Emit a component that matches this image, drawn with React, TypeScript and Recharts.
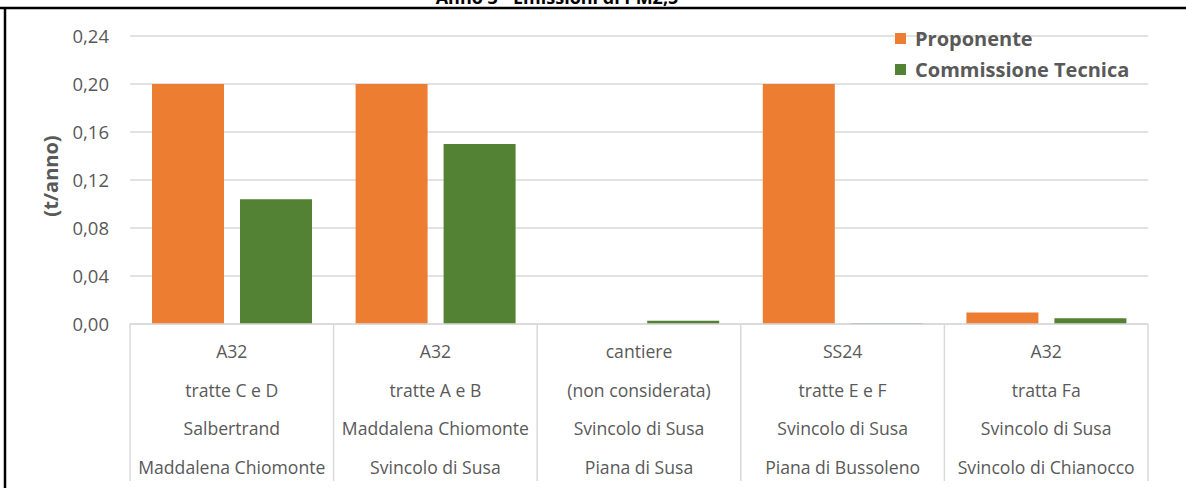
import { BarChart, Bar, XAxis, YAxis, CartesianGrid } from "recharts";

const categories = [
  ["A32", "tratte C e D", "Salbertrand", "Maddalena Chiomonte"],
  ["A32", "tratte A e B", "Maddalena Chiomonte", "Svincolo di Susa"],
  ["cantiere", "(non considerata)", "Svincolo di Susa", "Piana di Susa"],
  ["SS24", "tratte E e F", "Svincolo di Susa", "Piana di Bussoleno"],
  ["A32", "tratta Fa", "Svincolo di Susa", "Svincolo di Chianocco"],
];
const proponente = [0.2, 0.2, 0, 0.2, 0.0095];
const commissione = [0.104, 0.15, 0.0028, 0.0006, 0.0048];
const yTicks = [0, 0.04, 0.08, 0.12, 0.16, 0.2, 0.24];

const series = [
  { key: "proponente", name: "Proponente", color: "#ED7D31" },
  { key: "commissione", name: "Commissione Tecnica", color: "#548235" },
];

const data = categories.map((lines, i) => ({
  label: lines.join("|"),
  proponente: proponente[i],
  commissione: commissione[i],
}));

const FONT = "'Open Sans', 'Noto Sans', sans-serif";
const TEXT = "#595959";
const GRID = "#d9d9d9";
const W = 1186;
const H = 488;
const PLOT_LEFT = 130;
const PLOT_RIGHT = 1148;
const CAT_W = (PLOT_RIGHT - PLOT_LEFT) / categories.length;

const fmt = (v: number) => v.toFixed(2).replace(".", ",");

// multi-row category label with the table-like separators underneath the axis
const CategoryTick = (props: any) => {
  const { x, y, payload, index } = props;
  const lines: string[] = String(payload.value).split("|");
  const last = index === categories.length - 1;
  return (
    <g>
      <line x1={x - CAT_W / 2} x2={x - CAT_W / 2} y1={y} y2={y + 157} stroke={GRID} strokeWidth={1.5} />
      {last && (
        <line x1={x + CAT_W / 2} x2={x + CAT_W / 2} y1={y} y2={y + 157} stroke={GRID} strokeWidth={1.5} />
      )}
      {lines.map((t, i) => (
        <text
          key={i}
          x={x}
          y={y + 27 + i * 38.7}
          textAnchor="middle"
          dominantBaseline="central"
          fill={TEXT}
          fontSize={17.6}
          fontFamily={FONT}
        >
          {t}
        </text>
      ))}
    </g>
  );
};

const AxisTitle = () => (
  <text
    x={50}
    y={176}
    transform="rotate(-90 50 176)"
    textAnchor="middle"
    dominantBaseline="central"
    fill={TEXT}
    fontSize={20}
    fontWeight={700}
    fontFamily={FONT}
  >
    (t/anno)
  </text>
);

const LegendBox = () => (
  <div
    style={{
      position: "absolute",
      left: 895,
      top: 23,
      fontFamily: FONT,
      fontWeight: 700,
      fontSize: 20,
      color: TEXT,
    }}
  >
    {series.map((s) => (
      <div key={s.key} style={{ display: "flex", alignItems: "center", height: 31 }}>
        <div style={{ width: 11, height: 11, background: s.color, marginRight: 9 }} />
        <span>{s.name}</span>
      </div>
    ))}
  </div>
);

export default function App() {
  return (
    <div style={{ position: "absolute", left: 0, top: 0, width: W, height: H, background: "#fff", overflow: "hidden" }}>
      <BarChart
        width={W}
        height={H}
        data={data}
        margin={{ top: 36, right: W - PLOT_RIGHT, left: 0, bottom: 0 }}
        barSize={72}
        barGap={16}
      >
        <CartesianGrid vertical={false} stroke={GRID} strokeWidth={1.5} />
        <XAxis
          dataKey="label"
          axisLine={{ stroke: GRID, strokeWidth: 1.5 }}
          tickLine={false}
          tickSize={0}
          tickMargin={0}
          height={H - 324}
          interval={0}
          tick={<CategoryTick />}
        />
        <YAxis
          width={PLOT_LEFT}
          domain={[0, 0.24]}
          ticks={yTicks}
          tickFormatter={fmt}
          axisLine={false}
          tickLine={false}
          tickSize={0}
          tickMargin={21}
          tick={{ fill: TEXT, fontSize: 18.5, fontFamily: FONT }}
          label={{ content: <AxisTitle /> }}
        />
        {series.map((s) => (
          <Bar key={s.key} dataKey={s.key} name={s.name} fill={s.color} isAnimationActive={false} />
        ))}
      </BarChart>
      <LegendBox />
      <svg width={W} height={H} style={{ position: "absolute", left: 0, top: 0, pointerEvents: "none" }}>
        <text x={557} y={4} textAnchor="middle" fontFamily={FONT} fontWeight={700} fontSize={18} fill="#000">
          Anno 3 - Emissioni di PM2,5
        </text>
        <line x1={0} x2={W} y1={8} y2={8} stroke="#000" strokeWidth={2.5} />
        <line x1={5} x2={5} y1={8} y2={H} stroke="#000" strokeWidth={2.5} />
      </svg>
    </div>
  );
}
